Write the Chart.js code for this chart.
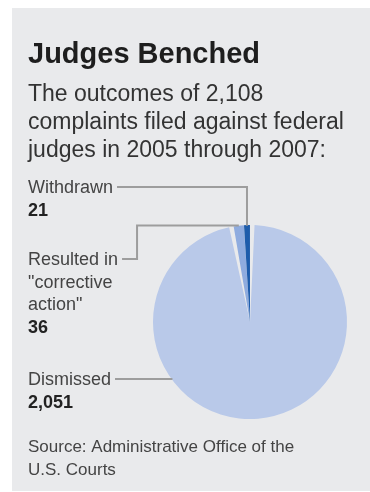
<!DOCTYPE html>
<html>
<head>
<meta charset="utf-8">
<script src="https://cdn.jsdelivr.net/npm/chart.js@4"></script>
<style>
    body { margin: 0; background: #fff; }
    #panel { position: absolute; left: 12px; top: 8px; width: 358px; height: 483px; background: #e9eaec; }
    #wrap { position: absolute; left: 0; top: 0; width: 370px; height: 492px; }
</style>
</head>
<body>
<div id="panel"></div>
<div id="wrap"><canvas id="judges" width="370" height="492"></canvas></div>
<script>
const categories = ["Withdrawn", "Resulted in \"corrective action\"", "Dismissed"];
const labelLines = [["Withdrawn"], ["Resulted in", "\"corrective", "action\""], ["Dismissed"]];
const complaints = [21, 36, 2051];
const sliceColors = ["#1d5cab", "#8facdf", "#b9c9e9"];

const titleText = "Judges Benched";
const subtitleLines = ["The outcomes of 2,108", "complaints filed against federal", "judges in 2005 through 2007:"];
const sourceLines = ["Source: Administrative Office of the", "U.S. Courts"];

// chart draws clockwise from 12 o'clock, so reverse to end at the top
const chartLabels = categories.slice().reverse();
const chartValues = complaints.slice().reverse();
const chartColors = sliceColors.slice().reverse();

const FONT = "\"Liberation Sans\", Arial, sans-serif";
const labelBase = [193, 265, 385];

const annotate = {
    id: "annotate",
    afterDatasetsDraw(chart) {
        const ctx = chart.ctx;
        const arcs = chart.getDatasetMeta(0).data;
        ctx.save();
        ctx.fillStyle = "#1e1e1e";
        ctx.textBaseline = "alphabetic";
        ctx.font = "bold 29px " + FONT;
        ctx.fillText(titleText, 28, 63);
        ctx.fillStyle = "#333";
        ctx.font = "23px " + FONT;
        subtitleLines.forEach((t, i) => ctx.fillText(t, 28, 101 + i * 28));

        ctx.strokeStyle = "#9d9d9d";
        ctx.lineWidth = 2;
        categories.forEach((cat, i) => {
            const lines = labelLines[i];
            ctx.font = "18px " + FONT;
            ctx.fillStyle = "#444";
            lines.forEach((t, j) => ctx.fillText(t, 28, labelBase[i] + j * 22.5));
            ctx.font = "bold 18px " + FONT;
            ctx.fillStyle = "#222";
            ctx.fillText(complaints[i].toLocaleString("en-US"), 28, labelBase[i] + lines.length * 22.5);

            ctx.font = "18px " + FONT;
            const x0 = 28 + ctx.measureText(lines[0]).width + 4;
            const ly = labelBase[i] - 6;
            const arc = arcs[categories.length - 1 - i];
            const mid = (arc.startAngle + arc.endAngle) / 2;
            const px = arc.x + arc.outerRadius * Math.cos(mid);
            const py = arc.y + arc.outerRadius * Math.sin(mid);
            ctx.beginPath();
            if (i === 0) {
                ctx.moveTo(x0, ly);
                ctx.lineTo(px, ly);
                ctx.lineTo(px, py);
            } else if (i === 1) {
                ctx.moveTo(x0, ly);
                ctx.lineTo(x0 + 15, ly);
                ctx.lineTo(x0 + 15, py - 1);
                ctx.lineTo(px, py - 1);
            } else {
                const dy = ly - arc.y;
                const ex = arc.x - Math.sqrt(arc.outerRadius * arc.outerRadius - dy * dy);
                ctx.moveTo(x0, ly);
                ctx.lineTo(ex, ly);
            }
            ctx.stroke();
        });

        ctx.font = "17px " + FONT;
        ctx.fillStyle = "#444";
        sourceLines.forEach((t, i) => ctx.fillText(t, 28, 452 + i * 23));
        ctx.restore();
    }
};

new Chart(document.getElementById("judges").getContext("2d"), {
    type: "pie",
    data: {
        labels: chartLabels,
        datasets: [{
            data: chartValues,
            backgroundColor: chartColors,
            borderWidth: 0,
            spacing: 1.5
        }]
    },
    options: {
        responsive: false,
        animation: false,
        layout: { padding: { left: 153, right: 23, top: 225, bottom: 73 } },
        plugins: {
            legend: { display: false },
            tooltip: { enabled: false }
        }
    },
    plugins: [annotate]
});
</script>
</body>
</html>
